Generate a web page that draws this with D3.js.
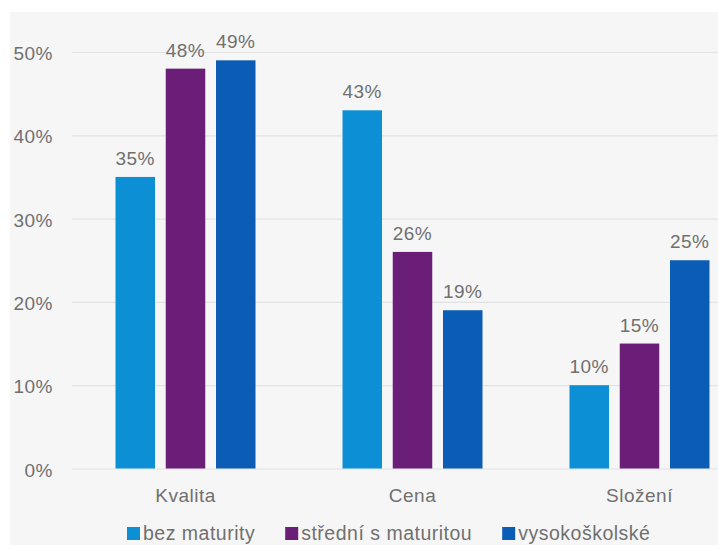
<!DOCTYPE html>
<html>
<head>
<meta charset="utf-8">
<script src="https://cdn.jsdelivr.net/npm/d3@7"></script>
<style>
  html, body { margin: 0; padding: 0; background: #ffffff; }
  svg { display: block; }
  text { font-family: "Liberation Sans", Arial, sans-serif; fill: #707070; }
</style>
</head>
<body>
<svg id="chart" width="718" height="545"></svg>
<script>
// Categories, series and values (percent)
const categories = ["Kvalita", "Cena", "Složení"];
const seriesNames = ["bez maturity", "střední s maturitou", "vysokoškolské"];
const bezMaturity = [35, 43, 10];
const stredniSMaturitou = [48, 26, 15];
const vysokoskolske = [49, 19, 25];
const yTicks = [0, 10, 20, 30, 40, 50];
const seriesColors = ["#0d8fd6", "#6a1e78", "#0b5cb5"];

const seriesValues = [bezMaturity, stredniSMaturitou, vysokoskolske];
const rows = categories.map((c, i) => ({
  category: c,
  values: seriesNames.map((s, j) => ({ series: s, value: seriesValues[j][i] }))
}));

const W = 718, H = 545;
const svg = d3.select("#chart");

// panel background with white margins at top and left
svg.append("rect").attr("x", 0).attr("y", 0).attr("width", W).attr("height", H).attr("fill", "#ffffff");
svg.append("rect").attr("x", 10).attr("y", 12).attr("width", W - 10).attr("height", H - 12).attr("fill", "#f6f6f6");

const plotLeft = 72, plotRight = 753;
const y = d3.scaleLinear().domain([0, 50]).range([468.5, 52]);
const x0 = d3.scaleBand().domain(categories).range([plotLeft, plotRight]).padding(0);
const groupWidth = 140;
const x1 = d3.scaleBand().domain(seriesNames).range([0, groupWidth]).paddingInner(0.214).paddingOuter(0);
const color = d3.scaleOrdinal().domain(seriesNames).range(seriesColors);

// gridlines + y labels
const yAxis = d3.axisLeft(y).tickValues(yTicks).tickSize(-(plotRight - plotLeft)).tickFormat(d => d + "%");
const gy = svg.append("g").attr("transform", `translate(${plotLeft},0)`).call(yAxis);
gy.select(".domain").remove();
gy.selectAll(".tick line").attr("stroke", "#e2e2e2").attr("stroke-width", 1.2);
gy.selectAll(".tick text")
  .attr("x", -19)
  .attr("dy", "0.4em")
  .style("font-size", "19px")
  .style("letter-spacing", "0.5px")
  .attr("fill", "#7a7a7a");

// bars
const groups = svg.append("g").selectAll("g")
  .data(rows)
  .join("g")
  .attr("transform", d => `translate(${x0(d.category) + x0.bandwidth() / 2 - groupWidth / 2},0)`);

groups.selectAll("rect")
  .data(d => d.values)
  .join("rect")
  .attr("x", d => x1(d.series))
  .attr("y", d => y(d.value))
  .attr("width", x1.bandwidth())
  .attr("height", d => y(0) - y(d.value))
  .attr("fill", d => color(d.series));

// value labels
groups.selectAll("text.val")
  .data(d => d.values)
  .join("text")
  .attr("class", "val")
  .attr("x", d => x1(d.series) + x1.bandwidth() / 2)
  .attr("y", d => y(d.value) - 12)
  .attr("text-anchor", "middle")
  .style("font-size", "19px")
  .style("letter-spacing", "0.5px")
  .text(d => d.value + "%");

// category labels
const xAxis = d3.axisBottom(x0).tickSize(0).tickPadding(0);
const gx = svg.append("g").attr("transform", `translate(0,${y(0)})`).call(xAxis);
gx.select(".domain").remove();
gx.selectAll(".tick text")
  .attr("y", 33)
  .attr("dy", 0)
  .style("font-size", "19px")
  .style("letter-spacing", "0.5px")
  .attr("fill", "#707070");

// legend
const legend = svg.append("g");
let lx = 127;
seriesNames.forEach(s => {
  legend.append("rect").attr("x", lx).attr("y", 527).attr("width", 13).attr("height", 13).attr("fill", color(s));
  const t = legend.append("text")
    .attr("x", lx + 16)
    .attr("y", 540)
    .style("font-size", "19.5px")
    .style("letter-spacing", "0.5px")
    .text(s);
  lx += 16 + t.node().getComputedTextLength() + 30;
});
</script>
</body>
</html>
